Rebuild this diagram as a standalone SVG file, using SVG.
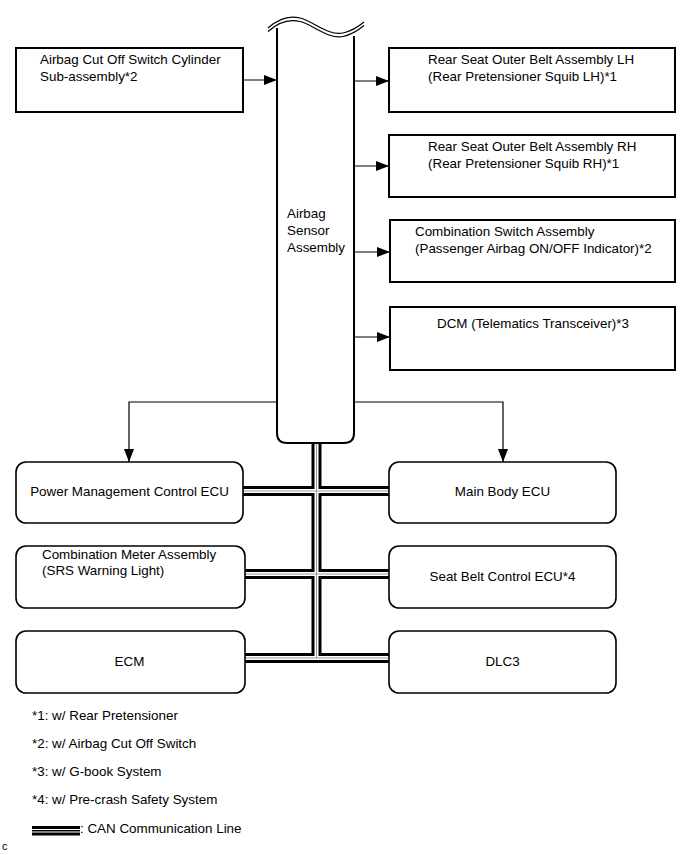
<svg xmlns="http://www.w3.org/2000/svg" width="691" height="855" viewBox="0 0 691 855">
<style>
text{font-family:"Liberation Sans",Arial,sans-serif;font-size:13.4px;fill:#000}
.box{fill:#fff;stroke:#000;stroke-width:2}
.rbox{fill:#fff;stroke:#000;stroke-width:1.6}
.ln{fill:none;stroke:#000;stroke-width:1.2}
.mid{text-anchor:middle}
</style>
<defs>
<marker id="ah" markerUnits="userSpaceOnUse" markerWidth="13" markerHeight="10" refX="13" refY="5" orient="auto">
<path d="M0,0 L13,5 L0,10 Z" fill="#000"/>
</marker>
</defs>
<g id="connectors">
<path class="ln" d="M243,80 L277,80" marker-end="url(#ah)"/>
<path class="ln" d="M354,81 L389,81" marker-end="url(#ah)"/>
<path class="ln" d="M354,166 L389,166" marker-end="url(#ah)"/>
<path class="ln" d="M354,252 L390,252" marker-end="url(#ah)"/>
<path class="ln" d="M354,337 L390,337" marker-end="url(#ah)"/>
<path class="ln" d="M277,402 L129,402 L129,462" marker-end="url(#ah)"/>
<path class="ln" d="M354,402 L503,402 L503,462" marker-end="url(#ah)"/>
<g id="can">
<path d="M316.5,443 L316.5,658 M243,491 L389,491 M245,574 L389,574 M245,658 L389,658" fill="none" stroke="#000" stroke-width="10"/>
<path d="M316.5,443 L316.5,658 M243,491 L389,491 M245,574 L389,574 M245,658 L389,658" fill="none" stroke="#fff" stroke-width="4"/>
<path d="M316.5,443 L316.5,658 M243,491 L389,491 M245,574 L389,574 M245,658 L389,658" fill="none" stroke="#999" stroke-width="1"/>
</g>
</g>
<g id="airbag-sensor">
<path d="M277,28 L277,433 Q277,443 287,443 L344,443 Q354,443 354,433 L354,36" fill="#fff" stroke="#000" stroke-width="2"/>
<path d="M268,28 C278,19 288,15 300,18 C313,21 328,36 343,33 C352,31 358,27 364,22" fill="none" stroke="#000" stroke-width="1.2"/>
<path d="M268,31.5 C278,22.5 288,18.5 300,21.5 C313,24.5 328,39.5 343,36.5 C352,34.5 358,30.5 364,25.5" fill="none" stroke="#000" stroke-width="1.2"/>
<text x="287" y="218">Airbag</text>
<text x="287" y="235">Sensor</text>
<text x="287" y="252">Assembly</text>
</g>
<g id="cutoff-switch">
<rect class="box" x="16" y="48" width="227" height="64"/>
<text x="40" y="64">Airbag Cut Off Switch Cylinder</text>
<text x="40" y="81">Sub-assembly*2</text>
</g>
<g id="rear-lh">
<rect class="box" x="389" y="48" width="286" height="64"/>
<text x="428" y="64">Rear Seat Outer Belt Assembly LH</text>
<text x="428" y="81">(Rear Pretensioner Squib LH)*1</text>
</g>
<g id="rear-rh">
<rect class="box" x="389" y="135" width="286" height="62"/>
<text x="428" y="151">Rear Seat Outer Belt Assembly RH</text>
<text x="428" y="168">(Rear Pretensioner Squib RH)*1</text>
</g>
<g id="comb-switch">
<rect class="box" x="390" y="220" width="285" height="62"/>
<text x="415" y="236">Combination Switch Assembly</text>
<text x="415" y="253">(Passenger Airbag ON/OFF Indicator)*2</text>
</g>
<g id="dcm">
<rect class="box" x="390" y="307" width="285" height="63"/>
<text x="437" y="328">DCM (Telematics Transceiver)*3</text>
</g>
<g id="power-mgmt">
<rect class="rbox" x="16" y="462" width="227" height="61" rx="10"/>
<text class="mid" x="129.5" y="496">Power Management Control ECU</text>
</g>
<g id="main-body">
<rect class="rbox" x="389" y="462" width="227" height="61" rx="10"/>
<text class="mid" x="502.5" y="496">Main Body ECU</text>
</g>
<g id="comb-meter">
<rect class="rbox" x="16" y="546" width="229" height="62" rx="10"/>
<text x="42" y="559">Combination Meter Assembly</text>
<text x="42" y="575">(SRS Warning Light)</text>
</g>
<g id="seat-belt">
<rect class="rbox" x="389" y="546" width="227" height="62" rx="10"/>
<text class="mid" x="502.5" y="581">Seat Belt Control ECU*4</text>
</g>
<g id="ecm">
<rect class="rbox" x="16" y="631" width="229" height="62" rx="10"/>
<text class="mid" x="129.5" y="666">ECM</text>
</g>
<g id="dlc3">
<rect class="rbox" x="389" y="631" width="227" height="62" rx="10"/>
<text class="mid" x="502.5" y="666">DLC3</text>
</g>
<g id="legend">
<text x="32" y="720">*1: w/ Rear Pretensioner</text>
<text x="32" y="748">*2: w/ Airbag Cut Off Switch</text>
<text x="32" y="776">*3: w/ G-book System</text>
<text x="32" y="804">*4: w/ Pre-crash Safety System</text>
<rect x="32" y="826" width="48" height="3" fill="#000"/>
<rect x="32" y="830" width="48" height="1.5" fill="#000"/>
<rect x="32" y="832.5" width="48" height="3" fill="#000"/>
<text x="80" y="833">: CAN Communication Line</text>
<text x="2" y="850" style="font-size:11px">c</text>
</g>
</svg>
